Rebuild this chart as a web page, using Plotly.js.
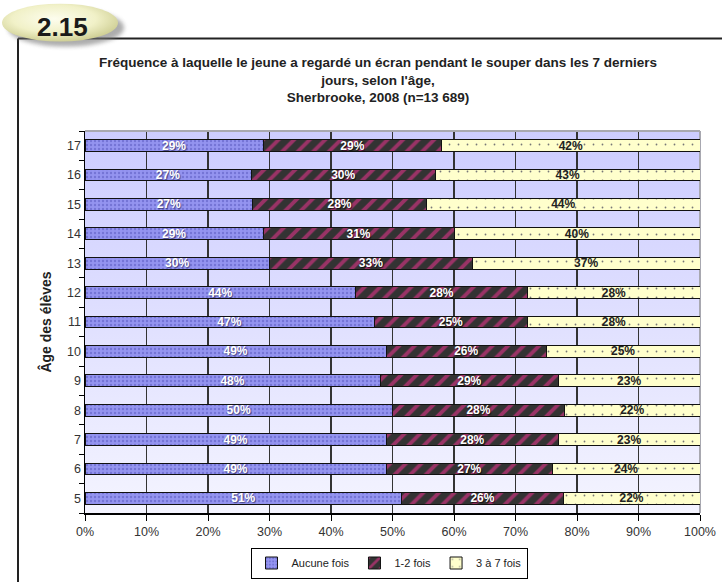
<!DOCTYPE html>
<html><head><meta charset="utf-8">
<script src="https://cdn.plot.ly/plotly-3.0.1.min.js"></script>
<style>html,body{margin:0;padding:0;background:#fff;}</style>
</head><body><div id="chart" style="width:722px;height:582px;"></div>
<script>
const ages = ['5','6','7','8','9','10','11','12','13','14','15','16','17'];
const aucune = [51,49,49,50,48,49,47,44,30,29,27,27,29];
const unDeux = [26,27,28,28,29,26,25,28,33,31,28,30,29];
const troisSept = [22,24,23,22,23,25,28,28,37,40,44,43,42];
const seriesNames = ['Aucune fois','1-2 fois','3 à 7 fois'];
const xTickVals = [0,10,20,30,40,50,60,70,80,90,100];

const FONT = 'Liberation Sans, Arial, sans-serif';
const W = 722, H = 582, L = 85, R = 700, T = 130.5, B = 513;
const px = x => (x - L) / (R - L);
const py = y => (B - y) / (B - T);

function barTrace(vals, name, color, pattern, txtColor, shadow) {
  return {
    type: 'bar', orientation: 'h', y: ages, x: vals, name: name,
    text: vals.map(v => v + '%'), textposition: 'inside', insidetextanchor: 'middle',
    textangle: 0, constraintext: 'none', cliponaxis: false,
    textfont: {family: FONT, size: 12, color: txtColor, weight: 'bold', shadow: shadow},
    marker: {color: color, line: {color: '#111', width: 1}, pattern: pattern},
    hoverinfo: 'skip'
  };
}

const traces = [
  barTrace(aucune, seriesNames[0], '#9090f0', {shape: '.', bgcolor: '#9494f0', fgcolor: '#7474d6', size: 4, solidity: 0.28}, '#ffffff', '1px 1px 1px rgba(40,40,90,0.7)'),
  barTrace(unDeux, seriesNames[1], '#333333', {shape: '/', bgcolor: '#333333', fgcolor: '#993366', size: 11, solidity: 0.35}, '#ffffff', '1px 1px 1px rgba(0,0,0,0.7)'),
  barTrace(troisSept, seriesNames[2], '#ffffcc', {shape: '.', bgcolor: '#ffffcc', fgcolor: '#777777', size: 9, solidity: 0.03}, '#222222', 'none')
];

const gradSvg = '<svg xmlns="http://www.w3.org/2000/svg" width="100" height="100" preserveAspectRatio="none"><defs><linearGradient id="g" x1="0" y1="0" x2="0" y2="1"><stop offset="0" stop-color="#ccccff"/><stop offset="1" stop-color="#f4f4ff"/></linearGradient></defs><rect width="100" height="100" fill="url(#g)"/></svg>';
const badgeSvg = '<svg xmlns="http://www.w3.org/2000/svg" width="130" height="50"><defs><radialGradient id="b" cx="0.45" cy="0.4" r="0.6"><stop offset="0" stop-color="#fdfdee"/><stop offset="0.6" stop-color="#f1f1c8"/><stop offset="1" stop-color="#cfcf95"/></radialGradient><filter id="f"><feGaussianBlur stdDeviation="2"/></filter></defs><ellipse cx="66" cy="27" rx="58" ry="19" fill="#777" opacity="0.6" filter="url(#f)"/><ellipse cx="60" cy="22" rx="58" ry="19" fill="url(#b)"/></svg>';
const uri = s => 'data:image/svg+xml;charset=utf-8,' + encodeURIComponent(s);

const layout = {
  width: W, height: H,
  margin: {l: L, r: W - R, t: T, b: H - B, pad: 0},
  paper_bgcolor: '#ffffff', plot_bgcolor: 'rgba(0,0,0,0)',
  barmode: 'stack', barnorm: 'percent', bargap: 0.6,
  font: {family: FONT, size: 11, color: '#333'},
  title: {
    text: '<b>Fréquence à laquelle le jeune a regardé un écran pendant le souper dans les 7 derniers<br>jours, selon l\'âge,<br>Sherbrooke, 2008 (n=13 689)</b>',
    font: {family: FONT, size: 13.5, color: '#222'},
    xref: 'container', x: 378 / W, xanchor: 'center',
    yref: 'container', y: 1 - 67 / H, yanchor: 'top'
  },
  xaxis: {
    range: [0, 100.0001], tickvals: xTickVals, ticktext: xTickVals.map(v => v + '%'),
    showgrid: true, gridcolor: '#333333', gridwidth: 1.5,
    showline: true, linecolor: '#000', linewidth: 1.5,
    ticks: 'outside', ticklen: 6, tickcolor: '#000', tickwidth: 1,
    tickfont: {family: FONT, size: 12.5, color: '#333'}, zeroline: false, fixedrange: true,
    automargin: false
  },
  yaxis: {
    type: 'category', categoryorder: 'array', categoryarray: ages,
    showgrid: false, showline: true, linecolor: '#000', linewidth: 1.5,
    ticks: 'outside', tickson: 'boundaries', ticklen: 5, tickcolor: '#000',
    tickfont: {family: FONT, size: 12.5, color: '#333'}, automargin: false,
    title: {text: '<b>Âge des élèves</b>', font: {family: FONT, size: 14, color: '#222'}, standoff: 12},
    fixedrange: true
  },
  showlegend: true,
  legend: {
    orientation: 'h', traceorder: 'normal',
    xref: 'container', x: 389 / W, xanchor: 'center',
    yref: 'container', y: 1 - 563 / H, yanchor: 'middle',
    bgcolor: '#fff', bordercolor: '#000', borderwidth: 1,
    font: {family: FONT, size: 11, color: '#222'}, itemwidth: 30, tracegroupgap: 0
  },
  images: [
    {source: uri(gradSvg), xref: 'paper', yref: 'paper', x: 0, y: 1, sizex: 1, sizey: 1, sizing: 'stretch', xanchor: 'left', yanchor: 'top', layer: 'below'},
    {source: uri(badgeSvg), xref: 'paper', yref: 'paper', x: px(0), y: py(0), sizex: 130 / (R - L), sizey: 50 / (B - T), sizing: 'stretch', xanchor: 'left', yanchor: 'top', layer: 'above'}
  ],
  shapes: [
    {type: 'line', xref: 'paper', yref: 'paper', x0: px(18), x1: px(722), y0: py(38), y1: py(38), line: {color: '#222', width: 2}, layer: 'below'},
    {type: 'line', xref: 'paper', yref: 'paper', x0: px(18), x1: px(18), y0: py(38), y1: py(582), line: {color: '#222', width: 2}, layer: 'below'},
    {type: 'line', xref: 'paper', yref: 'paper', x0: 0, x1: 1, y0: 1, y1: 1, line: {color: '#a8a8b0', width: 2}, layer: 'above'},
    {type: 'line', xref: 'paper', yref: 'paper', x0: 1, x1: 1, y0: 0, y1: 1, line: {color: '#a8a8b0', width: 2}, layer: 'below'}
  ],
  annotations: [
    {text: '<b>2.15</b>', xref: 'paper', yref: 'paper', x: px(62), y: py(26), xanchor: 'center', yanchor: 'middle', showarrow: false, font: {family: FONT, size: 26, color: '#1a1a1a'}}
  ]
};

Plotly.newPlot('chart', traces, layout, {displayModeBar: false, staticPlot: true});
</script></body></html>
